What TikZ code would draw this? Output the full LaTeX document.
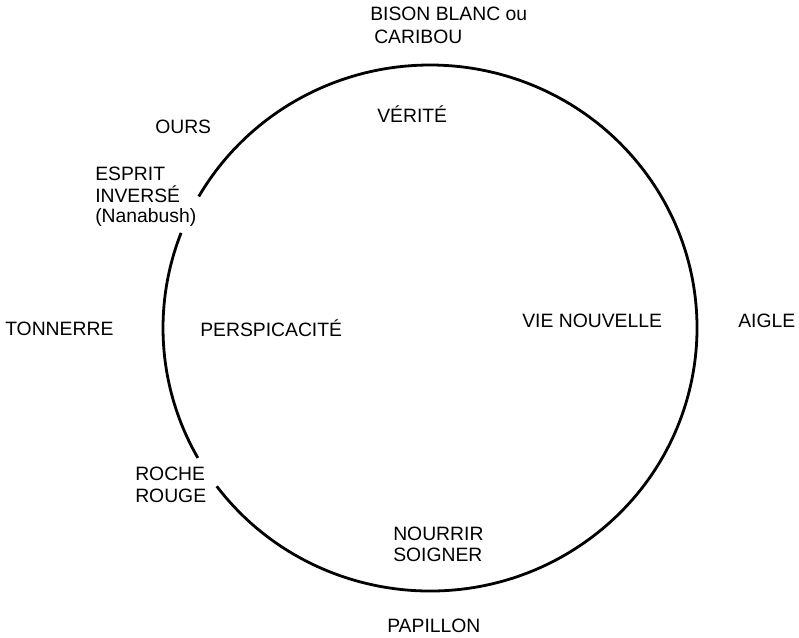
\documentclass[tikz,border=0pt]{standalone}
\usepackage{fontspec}
\setmainfont{Liberation Sans}
\begin{document}
\begin{tikzpicture}[x=0.75pt,y=0.75pt,
  mot/.style={anchor=base west,inner sep=0pt,text height=10.4pt,text depth=0pt,font=\fontsize{14.5}{17}\selectfont},
  trait/.style={line width=2.1pt}]
  \useasboundingbox (0,0) rectangle (799,-637);
  \coordinate (centre) at (430,-328);
  % the circle, open twice on the left
  \draw[trait] ([shift={(217:267 and 263)}]centre) arc[start angle=217,end angle=510,x radius=267,y radius=263];
  \draw[trait] ([shift={(158.8:267 and 263)}]centre) arc[start angle=158.8,end angle=209.6,x radius=267,y radius=263];
  % outside
  \node[mot] (bison) at (370,-20) {BISON BLANC ou};
  \node[mot] (caribou) at (374,-43) {CARIBOU};
  \node[mot] (ours) at (155,-133) {OURS};
  \node[mot] (esprit) at (95,-180) {ESPRIT};
  \node[mot] (inverse) at (95,-202) {INVERSÉ};
  \node[mot] (nanabush) at (95,-222) {(Nanabush)};
  \node[mot] (tonnerre) at (5,-335) {TONNERRE};
  \node[mot] (aigle) at (738,-327) {AIGLE};
  \node[mot] (roche) at (135,-480) {ROCHE};
  \node[mot] (rouge) at (135,-502) {ROUGE};
  \node[mot] (papillon) at (387,-632) {PAPILLON};
  % inside
  \node[mot] (verite) at (377,-122) {VÉRITÉ};
  \node[mot] (perspicacite) at (200,-336) {PERSPICACITÉ};
  \node[mot] (vie) at (522,-327) {VIE NOUVELLE};
  \node[mot] (nourrir) at (393,-540) {NOURRIR};
  \node[mot] (soigner) at (393,-561) {SOIGNER};
\end{tikzpicture}
\end{document}
